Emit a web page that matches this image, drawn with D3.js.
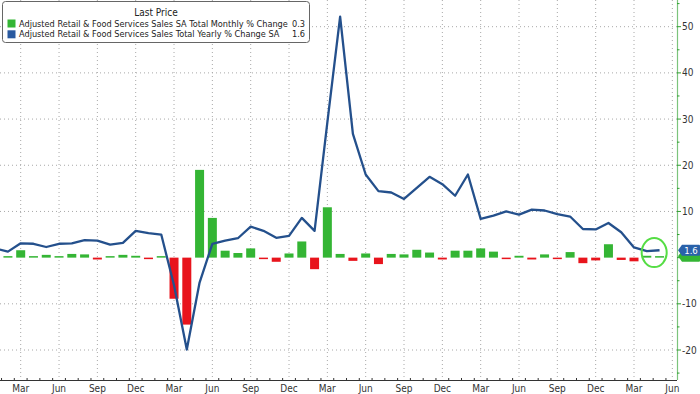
<!DOCTYPE html>
<html>
<head>
<meta charset="utf-8">
<script src="https://cdn.jsdelivr.net/npm/d3@7"></script>
<style>
body { margin: 0; background: #fff; }
svg { display: block; font-family: "DejaVu Sans Condensed", "DejaVu Sans", sans-serif; }
</style>
</head>
<body>
<div id="chart"></div>
<script>
// Jan 2019 .. May 2023
var months = [
	"2019-01", "2019-02", "2019-03", "2019-04", "2019-05", "2019-06", "2019-07", "2019-08", "2019-09", "2019-10", "2019-11", "2019-12",
	"2020-01", "2020-02", "2020-03", "2020-04", "2020-05", "2020-06", "2020-07", "2020-08", "2020-09", "2020-10", "2020-11", "2020-12",
	"2021-01", "2021-02", "2021-03", "2021-04", "2021-05", "2021-06", "2021-07", "2021-08", "2021-09", "2021-10", "2021-11", "2021-12",
	"2022-01", "2022-02", "2022-03", "2022-04", "2022-05", "2022-06", "2022-07", "2022-08", "2022-09", "2022-10", "2022-11", "2022-12",
	"2023-01", "2023-02", "2023-03", "2023-04", "2023-05"
];
var monthly = [
	0.2, 0.2, 1.6, 0.1, 0.6, 0.3, 0.8, 0.7, -0.4, 0.2, 0.6, 0.4,
	-0.1, 0.1, -8.9, -14.5, 19.0, 8.6, 1.5, 1.0, 2.0, -0.2, -0.9, 0.9,
	3.5, -2.5, 10.9, 0.8, -0.7, 0.9, -1.4, 0.8, 0.7, 1.7, 1.1, -0.4,
	1.5, 1.5, 2.0, 1.3, -0.2, 0.4, -0.4, 0.7, -0.1, 1.2, -1.2, -0.6,
	2.9, -0.5, -0.8, 0.4, 0.3
];
var yearly = [
	2.0, 1.3, 3.1, 3.0, 2.3, 3.0, 3.1, 3.8, 3.7, 2.8, 3.2, 5.8,
	5.3, 5.0, -6.0, -19.9, -5.4, 3.0, 3.7, 4.2, 6.7, 5.8, 4.3, 4.7,
	8.6, 5.8, 29.3, 52.2, 26.8, 18.0, 14.4, 14.1, 12.7, 15.1, 17.5, 15.9,
	13.4, 18.0, 8.4, 9.1, 10.0, 9.3, 10.4, 10.2, 9.4, 8.9, 6.2, 6.1,
	7.5, 5.5, 2.2, 1.4, 1.6
];
var monthNames = ["Jan", "Feb", "Mar", "Apr", "May", "Jun", "Jul", "Aug", "Sep", "Oct", "Nov", "Dec"];
var tickMonths = ["Mar", "Jun", "Sep", "Dec"];
var yTicks = [-20, -10, 0, 10, 20, 30, 40, 50];
var yMinorTicks = [-25, -15, -5, 5, 15, 25, 35, 45, 55];
var seriesNames = [
	"Adjusted Retail & Food Services Sales SA Total Monthly % Change",
	"Adjusted Retail & Food Services Sales Total Yearly % Change SA"
];
var lastMonthly = "0.3", lastYearly = "1.6";

var width = 700, height = 394;
var plotRight = 677, plotBottom = 380;
var green = "#34b534", red = "#e8141c", blue = "#24508c";

var svg = d3.select("#chart").append("svg")
	.attr("width", width)
	.attr("height", height);

// month index -> pixel (Mar 2019 and Mar 2023 tick positions)
var x = d3.scaleLinear().domain([2, 50]).range([20.7, 634]);
var y = d3.scaleLinear().domain([-20, 50]).range([350, 26.7]);

svg.append("defs").append("clipPath").attr("id", "plotClip")
	.append("rect").attr("x", 0).attr("y", 0).attr("width", plotRight).attr("height", plotBottom);

// tick month indices, extended to Jun 2023
var tickIdx = d3.range(0, 54).filter(function(i) {
	return tickMonths.indexOf(monthNames[i % 12]) >= 0;
});

// grid
var grid = svg.append("g").attr("class", "grid");
grid.selectAll(".vgrid")
	.data(tickIdx)
	.enter()
	.append("line")
	.attr("x1", function(d) { return x(d); })
	.attr("x2", function(d) { return x(d); })
	.attr("y1", 0)
	.attr("y2", plotBottom)
	.attr("stroke", "#a8a8a8")
	.attr("stroke-dasharray", "1,3");
grid.selectAll(".hgrid")
	.data(yTicks.filter(function(d) { return d !== 0; }))
	.enter()
	.append("line")
	.attr("x1", 0)
	.attr("x2", plotRight)
	.attr("y1", function(d) { return y(d); })
	.attr("y2", function(d) { return y(d); })
	.attr("stroke", "#a8a8a8")
	.attr("stroke-dasharray", "1,3");

var plot = svg.append("g").attr("clip-path", "url(#plotClip)");

// bars
var barW = 9;
plot.selectAll(".bar")
	.data(monthly)
	.enter()
	.append("rect")
	.attr("x", function(d, i) { return x(i) - barW / 2; })
	.attr("y", function(d) { return d >= 0 ? Math.min(y(d), y(0) - 1.5) : y(0); })
	.attr("width", barW)
	.attr("height", function(d) { return Math.max(Math.abs(y(d) - y(0)), 1.5); })
	.attr("fill", function(d) { return d >= 0 ? green : red; });

// line
var line = d3.line()
	.x(function(d, i) { return x(i); })
	.y(function(d) { return y(d); });
plot.append("path")
	.datum(yearly)
	.attr("d", line)
	.attr("fill", "none")
	.attr("stroke", blue)
	.attr("stroke-width", 2.3)
	.attr("stroke-linejoin", "round");

// x axis
svg.append("line")
	.attr("x1", 0).attr("x2", plotRight)
	.attr("y1", plotBottom + 0.5).attr("y2", plotBottom + 0.5)
	.attr("stroke", "#333");
svg.selectAll(".mtick")
	.data(d3.range(0, 54))
	.enter()
	.append("line")
	.attr("x1", function(d) { return x(d - 0.5); })
	.attr("x2", function(d) { return x(d - 0.5); })
	.attr("y1", plotBottom - 2)
	.attr("y2", plotBottom)
	.attr("stroke", "#333");
svg.selectAll(".xlabel")
	.data(tickIdx)
	.enter()
	.append("text")
	.attr("x", function(d) { return x(d); })
	.attr("y", 392)
	.attr("text-anchor", "middle")
	.attr("font-size", 10)
	.attr("fill", "#333")
	.text(function(d) { return monthNames[d % 12]; });

// y axis (right)
svg.append("line")
	.attr("x1", plotRight + 0.5).attr("x2", plotRight + 0.5)
	.attr("y1", 0).attr("y2", plotBottom)
	.attr("stroke", "#7cc47c")
	.attr("stroke-width", 1.2);
svg.selectAll(".ytick")
	.data(yTicks.concat(yMinorTicks))
	.enter()
	.append("line")
	.attr("x1", plotRight)
	.attr("x2", function(d) { return plotRight + (d % 10 === 0 ? 4 : 2.5); })
	.attr("y1", function(d) { return y(d); })
	.attr("y2", function(d) { return y(d); })
	.attr("stroke", "#2e9e2e");
svg.selectAll(".ylabel")
	.data(yTicks.filter(function(d) { return d !== 0; }))
	.enter()
	.append("text")
	.attr("x", 682)
	.attr("y", function(d) { return y(d); })
	.attr("dy", "0.35em")
	.attr("font-size", 10)
	.attr("fill", "#333")
	.text(function(d) { return d; });

// last value tags (monthly tag sits mostly hidden under the yearly one)
function tag(v, color, label) {
	var g = svg.append("g").attr("transform", "translate(678," + y(v) + ")");
	g.append("path")
		.attr("d", "M0,0 L4,-5.5 L21,-5.5 Q22,-5.5 22,-4.5 L22,4.5 Q22,5.5 21,5.5 L4,5.5 Z")
		.attr("fill", color);
	if (label) {
		g.append("text")
			.attr("x", 13)
			.attr("dy", "0.35em")
			.attr("text-anchor", "middle")
			.attr("font-size", 9.5)
			.attr("fill", "#fff")
			.text(label);
	}
}
tag(+lastMonthly, green, null);
tag(+lastYearly, "#2a62aa", lastYearly);

// highlight circle
var lastI = yearly.length - 1;
svg.append("ellipse")
	.attr("cx", x(lastI - 0.42))
	.attr("cy", y(1.1))
	.attr("rx", 12.5)
	.attr("ry", 14.5)
	.attr("fill", "none")
	.attr("stroke", "#55dd44")
	.attr("stroke-width", 2);

// legend
var legend = svg.append("g");
legend.append("rect")
	.attr("x", 2.5).attr("y", 1.5)
	.attr("width", 307).attr("height", 41)
	.attr("rx", 3)
	.attr("fill", "#fff")
	.attr("stroke", "#666");
legend.append("text")
	.attr("x", 156).attr("y", 15.5)
	.attr("text-anchor", "middle")
	.attr("font-size", 10)
	.attr("fill", "#222")
	.text("Last Price");
var legendRows = [
	{ name: seriesNames[0], value: lastMonthly, color: green },
	{ name: seriesNames[1], value: lastYearly, color: "#2a5aa0" }
];
legendRows.forEach(function(r, i) {
	var ry = 23.5 + i * 10.8;
	legend.append("rect")
		.attr("x", 7.5).attr("y", ry - 4)
		.attr("width", 8).attr("height", 8)
		.attr("fill", r.color);
	legend.append("text")
		.attr("x", 19).attr("y", ry)
		.attr("dy", "0.35em")
		.attr("font-size", 9.1)
		.attr("fill", "#222")
		.text(r.name);
	legend.append("text")
		.attr("x", 305).attr("y", ry)
		.attr("dy", "0.35em")
		.attr("text-anchor", "end")
		.attr("font-size", 9.1)
		.attr("fill", "#222")
		.text(r.value);
});
</script>
</body>
</html>
